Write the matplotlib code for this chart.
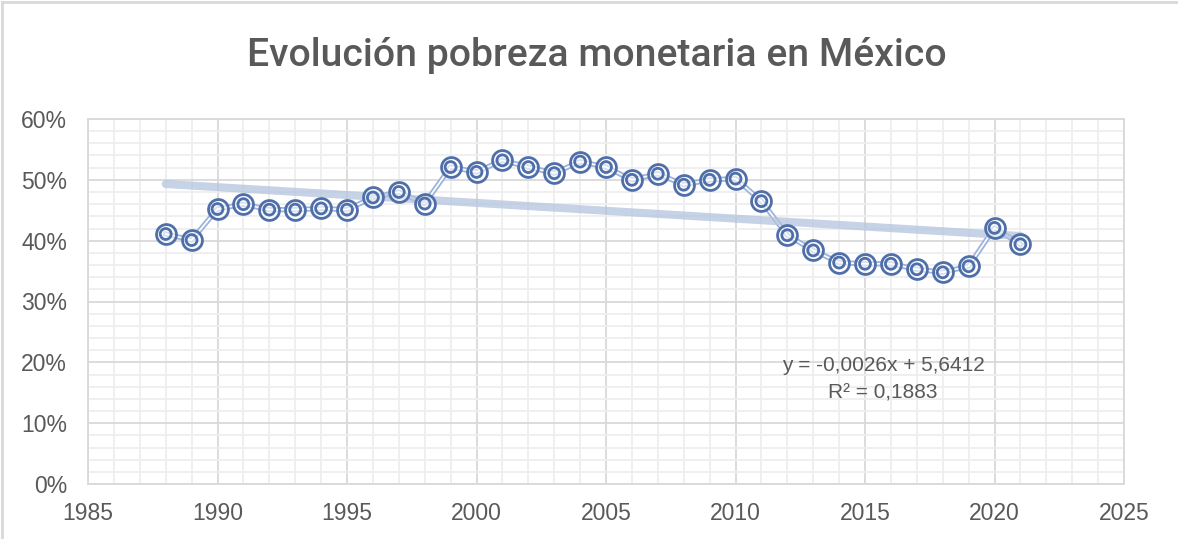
import matplotlib
matplotlib.use("Agg")
import matplotlib.pyplot as plt
import numpy as np
from matplotlib.ticker import MultipleLocator, PercentFormatter

# años y pobreza monetaria (fracción)
anios = np.arange(1988, 2022)
pobreza = [0.411, 0.401, 0.452, 0.460, 0.451, 0.451, 0.453, 0.451, 0.471, 0.480,
           0.461, 0.521, 0.513, 0.532, 0.521, 0.511, 0.530, 0.521, 0.500, 0.510,
           0.492, 0.500, 0.502, 0.465, 0.409, 0.384, 0.364, 0.362, 0.362, 0.353,
           0.348, 0.358, 0.421, 0.394]

titulo = "Evolución pobreza monetaria en México"
ecuacion = "y = -0,0026x + 5,6412"
r2 = "R² = 0,1883"

gris = "#595959"
azul = "#4F6FAA"
fuente = ["Liberation Sans", "DejaVu Sans"]

fig = plt.figure(figsize=(11.78, 5.39), dpi=100)
ax = fig.add_axes([88/1178, 1 - 484/539, (1124-88)/1178, (484-119)/539])

# linea de tendencia lineal
m, b = np.polyfit(anios, pobreza, 1)
ax.plot(anios, m*anios + b, color="#B4C3DD", lw=5.8, alpha=0.75,
        solid_capstyle="round", zorder=4)

# serie con linea doble
ax.plot(anios, pobreza, color="#9DB3D9", lw=3.8, zorder=3)
ax.plot(anios, pobreza, color="white", lw=1.2, zorder=3)
ax.scatter(anios, pobreza, s=205, facecolor=(1, 1, 1, 0.6), edgecolor=azul, linewidth=2.0, zorder=5)
ax.scatter(anios, pobreza, s=62, facecolor="none", edgecolor=azul, linewidth=2.0, zorder=6)

ax.set_xlim(1985, 2025)
ax.set_ylim(0, 0.6)
ax.xaxis.set_major_locator(MultipleLocator(5))
ax.xaxis.set_minor_locator(MultipleLocator(1))
ax.yaxis.set_major_locator(MultipleLocator(0.1))
ax.yaxis.set_minor_locator(MultipleLocator(0.02))
ax.yaxis.set_major_formatter(PercentFormatter(1.0, decimals=0))
ax.grid(which="major", color="#D9D9D9", lw=1.3)
ax.grid(which="minor", color="#EEEEEE", lw=1.3)
ax.set_axisbelow(True)
for s in ax.spines.values():
    s.set_color("#D9D9D9")
    s.set_linewidth(1.3)
ax.tick_params(which="both", length=0, colors=gris, labelsize=16.5)
ax.tick_params(axis="y", pad=15)
ax.tick_params(axis="x", pad=13)
for lab in ax.get_xticklabels() + ax.get_yticklabels():
    lab.set_family(fuente)

ax.text(2015.7, 0.195, ecuacion, ha="center", va="center", color=gris, fontsize=15,
        family=fuente)
ax.text(2015.7, 0.149, r2, ha="center", va="center", color=gris, fontsize=15,
        family=fuente)

fig.text(597/1178, 1 - 55/539, titulo, ha="center", va="center", color=gris,
         fontsize=28.2, fontweight="medium", family=["Roboto", "DejaVu Sans"])

# borde del grafico
fig.add_artist(plt.Line2D([2/1178, 2/1178], [0, 1 - 2/539], color="#D9D9D9", lw=2))
fig.add_artist(plt.Line2D([2/1178, 1], [1 - 2/539, 1 - 2/539], color="#D9D9D9", lw=2))

fig.savefig("out.png", dpi=100)
